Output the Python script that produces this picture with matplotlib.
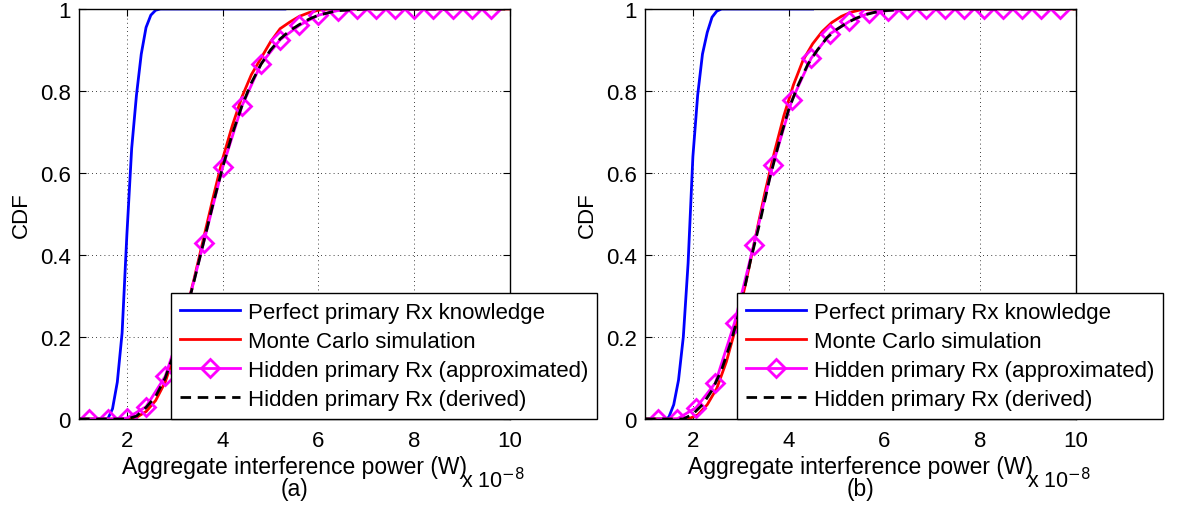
import matplotlib
matplotlib.use('Agg')
import matplotlib.pyplot as plt

plt.rcParams['font.family'] = ['Liberation Sans', 'DejaVu Sans']

# x values are in units of 1e-8 W
# ---------- panel (a) ----------
a_perfect_x = [1.0, 1.6, 1.7, 1.8, 1.9, 2.0, 2.1, 2.2, 2.3, 2.4, 2.5, 2.6, 2.7, 5.3]
a_perfect_y = [0, 0, 0.025, 0.09, 0.21, 0.45, 0.66, 0.79, 0.89, 0.955, 0.985, 0.997, 1.0, 1.0]

a_mc_x = [1.0, 2.0, 2.2, 2.4, 2.6, 2.8, 3.0, 3.2, 3.4, 3.6, 3.8, 4.0, 4.2, 4.4, 4.6,
          4.8, 5.0, 5.2, 5.4, 5.6, 5.8, 6.0, 6.2, 10]
a_mc_y = [0, 0, 0.004, 0.018, 0.045, 0.09, 0.16, 0.245, 0.34, 0.44, 0.54, 0.635, 0.715,
          0.785, 0.84, 0.88, 0.92, 0.952, 0.968, 0.982, 0.991, 0.997, 1.0, 1.0]

a_approx_x = [1.2, 1.6, 2.0, 2.4, 2.8, 3.2, 3.6, 4.0, 4.4, 4.8, 5.2, 5.6, 6.0, 6.4,
              6.8, 7.2, 7.6, 8.0, 8.4, 8.8, 9.2, 9.6]
a_approx_y = [0, 0, 0.002, 0.03, 0.104, 0.245, 0.429, 0.614, 0.763, 0.866, 0.925, 0.96,
              0.985, 0.996, 1, 1, 1, 1, 1, 1, 1, 1]

a_derived_x = [1.0, 2.0, 2.2, 2.4, 2.6, 2.8, 3.0, 3.2, 3.4, 3.6, 3.8, 4.0, 4.2, 4.4, 4.6,
               4.8, 5.0, 5.2, 5.4, 5.6, 5.8, 6.0, 6.4, 7.0, 10]
a_derived_y = [0, 0, 0.007, 0.028, 0.055, 0.1, 0.165, 0.245, 0.335, 0.43, 0.525, 0.614,
               0.695, 0.763, 0.82, 0.865, 0.9, 0.927, 0.947, 0.962, 0.975, 0.985, 0.996, 1, 1]

# ---------- panel (b) ----------
b_perfect_x = [1.0, 1.45, 1.5, 1.6, 1.7, 1.8, 1.9, 2.0, 2.1, 2.2, 2.3, 2.4, 2.5, 2.6, 4.5]
b_perfect_y = [0, 0, 0.005, 0.035, 0.095, 0.20, 0.38, 0.64, 0.79, 0.89, 0.943, 0.98, 0.995, 1.0, 1.0]

b_mc_x = [1.0, 1.9, 2.1, 2.3, 2.5, 2.7, 2.9, 3.1, 3.3, 3.5, 3.7, 3.9, 4.1, 4.3, 4.5,
          4.7, 4.9, 5.1, 5.3, 5.5, 5.8, 10]
b_mc_y = [0, 0, 0.01, 0.035, 0.075, 0.14, 0.225, 0.33, 0.44, 0.55, 0.65, 0.74, 0.815,
          0.875, 0.915, 0.945, 0.967, 0.982, 0.992, 0.998, 1.0, 1.0]

b_approx_x = [1.27, 1.67, 2.07, 2.47, 2.87, 3.27, 3.67, 4.07, 4.47, 4.87, 5.27, 5.67,
              6.07, 6.47, 6.87, 7.27, 7.67, 8.07, 8.47, 8.87, 9.27, 9.67]
b_approx_y = [0, 0, 0.028, 0.088, 0.235, 0.424, 0.62, 0.778, 0.88, 0.94, 0.97, 0.99,
              0.996, 1, 1, 1, 1, 1, 1, 1, 1, 1]

b_derived_x = [1.0, 1.8, 2.0, 2.2, 2.4, 2.6, 2.8, 3.0, 3.2, 3.4, 3.6, 3.8, 4.0, 4.2, 4.4,
               4.6, 4.8, 5.0, 5.2, 5.4, 5.6, 5.8, 6.0, 6.4, 7.0, 10]
b_derived_y = [0, 0, 0.012, 0.035, 0.07, 0.12, 0.19, 0.275, 0.385, 0.48, 0.585, 0.675,
               0.755, 0.815, 0.865, 0.9, 0.93, 0.95, 0.965, 0.977, 0.986, 0.992, 0.996,
               0.999, 1, 1]

labels = ['Perfect primary Rx knowledge', 'Monte Carlo simulation',
          'Hidden primary Rx (approximated)', 'Hidden primary Rx (derived)']
x_ticks = [2, 4, 6, 8, 10]
y_ticks = [0, 0.2, 0.4, 0.6, 0.8, 1]
y_ticklabels = ['0', '0.2', '0.4', '0.6', '0.8', '1']

panels = [
    ('(a)', a_perfect_x, a_perfect_y, a_mc_x, a_mc_y, a_approx_x, a_approx_y, a_derived_x, a_derived_y),
    ('(b)', b_perfect_x, b_perfect_y, b_mc_x, b_mc_y, b_approx_x, b_approx_y, b_derived_x, b_derived_y),
]

fs = 16
fig = plt.figure(figsize=(11.83, 5.10), dpi=100)
lefts = [79 / 1183, 645 / 1183]

for left, p in zip(lefts, panels):
    tag, px, py, mx, my, ax_, ay, dx, dy = p
    ax = fig.add_axes([left, 90 / 510, 431 / 1183, 410 / 510])
    ax.plot(px, py, color='#0000ff', lw=2)
    ax.plot(mx, my, color='#ff0000', lw=2)
    ax.plot(ax_, ay, color='#ff00ff', lw=2, marker='D', markersize=9.5,
            markerfacecolor='none', markeredgewidth=2)
    ax.plot(dx, dy, color='black', lw=2, ls=(0, (3.8, 2.4)))

    ax.set_xlim(1, 10)
    ax.set_ylim(0, 1)
    ax.set_xticks(x_ticks)
    ax.set_yticks(y_ticks)
    ax.set_yticklabels(y_ticklabels)
    ax.tick_params(direction='in', top=True, right=True, length=5, labelsize=fs, pad=6)
    ax.tick_params(axis='x', pad=8)
    ax.grid(True, color='black', ls=(0, (1, 4)), lw=0.6)
    for s in ax.spines.values():
        s.set_linewidth(1)
    ax.set_xlabel('Aggregate interference power (W)\n' + tag, fontsize=16.5, labelpad=3,
                  linespacing=0.95)
    ax.set_ylabel('CDF', fontsize=fs, labelpad=6)
    ax.text(0.886, -0.148, r'x 10$^{-8}$', transform=ax.transAxes, fontsize=15.5,
            ha='left', va='center')

    leg = ax.legend(labels, loc='lower right', bbox_to_anchor=(1.202, 0.0),
                    fontsize=fs, frameon=True, fancybox=False, framealpha=1,
                    edgecolor='black', handlelength=2.7, handletextpad=0.35,
                    labelspacing=0.36, borderpad=0.4, borderaxespad=0)
    leg.get_frame().set_linewidth(1)

fig.savefig('out.png', dpi=100)
